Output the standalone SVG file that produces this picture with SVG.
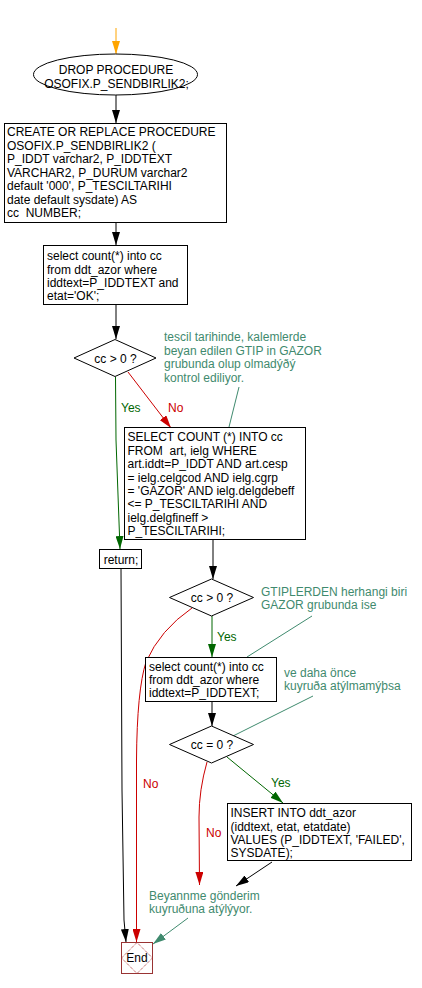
<svg xmlns="http://www.w3.org/2000/svg" width="422" height="988" viewBox="0 0 422 988">
<defs>
<style>
text{font-family:"Liberation Sans",Arial,sans-serif;font-size:12px;fill:#000}
.box{fill:#fff;stroke:#000;stroke-width:1}
.c{text-anchor:middle}
.note{fill:#3f8a6e}
.yes{fill:#006600}
.no{fill:#cc0000}
.ln{fill:none;stroke:#000;stroke-width:1}
.lg{fill:none;stroke:#006600;stroke-width:1}
.lr{fill:none;stroke:#cc0000;stroke-width:1}
.lt{fill:none;stroke:#3f8a6e;stroke-width:1}
.lo{fill:none;stroke:#ffa500;stroke-width:1}
</style>
<marker id="ab" viewBox="0 0 13 8" refX="13" refY="4" markerWidth="13" markerHeight="8" markerUnits="userSpaceOnUse" orient="auto"><path d="M0,0 L13,4 L0,8 z" fill="#000"/></marker>
<marker id="ag" viewBox="0 0 13 8" refX="13" refY="4" markerWidth="13" markerHeight="8" markerUnits="userSpaceOnUse" orient="auto"><path d="M0,0 L13,4 L0,8 z" fill="#006600"/></marker>
<marker id="ar" viewBox="0 0 13 8" refX="13" refY="4" markerWidth="13" markerHeight="8" markerUnits="userSpaceOnUse" orient="auto"><path d="M0,0 L13,4 L0,8 z" fill="#cc0000"/></marker>
<marker id="at" viewBox="0 0 13 8" refX="13" refY="4" markerWidth="13" markerHeight="8" markerUnits="userSpaceOnUse" orient="auto"><path d="M0,0 L13,4 L0,8 z" fill="#3f8a6e"/></marker>
<marker id="ao" viewBox="0 0 13 8" refX="13" refY="4" markerWidth="13" markerHeight="8" markerUnits="userSpaceOnUse" orient="auto"><path d="M0,0 L13,4 L0,8 z" fill="#ffa500"/></marker>
</defs>

<g id="connectors">
<path class="lo" d="M116,28 L116,54" marker-end="url(#ao)"/>
<path class="ln" d="M116,95 L116,123" marker-end="url(#ab)"/>
<path class="ln" d="M116,222 L116,245" marker-end="url(#ab)"/>
<path class="ln" d="M116,304 L116,339" marker-end="url(#ab)"/>
<path class="lg" d="M115.5,377 L116,440 L120,549" marker-end="url(#ag)"/>
<path class="lr" d="M128,372 L171,428" marker-end="url(#ar)"/>
<path class="lt" d="M239,387 L229,427"/>
<path class="ln" d="M121,568 L122,790 L124,920 L126,942" marker-end="url(#ab)"/>
<path class="ln" d="M213,539 L213,579" marker-end="url(#ab)"/>
<path class="lg" d="M212,616 L212,657" marker-end="url(#ag)"/>
<path class="lr" d="M192,608 Q160,630 146,662 Q137,690 136.5,760 L136.5,942" marker-end="url(#ar)"/>
<path class="lt" d="M312,616 L247,657"/>
<path class="ln" d="M212,702 L212,726" marker-end="url(#ab)"/>
<path class="lt" d="M313,696 L233,736"/>
<path class="lg" d="M227,757 L283,803" marker-end="url(#ag)"/>
<path class="lr" d="M207,762 Q199,790 199,817 L199.5,885" marker-end="url(#ar)"/>
<path class="ln" d="M272,862 L236,886" marker-end="url(#ab)"/>
<path class="lt" d="M188,918 L153,944" marker-end="url(#at)"/>
<text class="yes" x="121" y="412">Yes</text>
<text class="no" x="168" y="412">No</text>
<text class="yes" x="217" y="641">Yes</text>
<text class="no" x="143" y="788">No</text>
<text class="yes" x="271" y="787">Yes</text>
<text class="no" x="206" y="837">No</text>
</g>

<g id="start">
<ellipse cx="115.5" cy="74.5" rx="82" ry="20.5" class="box"/>
<text class="c" x="116" y="74">DROP PROCEDURE</text>
<text class="c" x="116.5" y="88">OSOFIX.P_SENDBIRLIK2;</text>
</g>

<g id="create">
<rect x="4.5" y="123.5" width="222" height="99" class="box"/>
<text x="7" y="136">CREATE OR REPLACE PROCEDURE</text>
<text x="7" y="149.5">OSOFIX.P_SENDBIRLIK2 (</text>
<text x="7" y="163">P_IDDT varchar2, P_IDDTEXT</text>
<text x="7" y="176.5">VARCHAR2, P_DURUM varchar2</text>
<text x="7" y="190">default '000', P_TESCILTARIHI</text>
<text x="7" y="203.5">date default sysdate) AS</text>
<text x="7" y="217" xml:space="preserve">cc  NUMBER;</text>
</g>

<g id="select1">
<rect x="43.5" y="245.5" width="144" height="59" class="box"/>
<text x="47" y="260">select count(*) into cc</text>
<text x="47" y="273.5">from ddt_azor where</text>
<text x="47" y="287">iddtext=P_IDDTEXT and</text>
<text x="47" y="300">etat='OK';</text>
</g>

<g id="dec1">
<polygon points="74,358 115,339.5 156,358 115,376.5" class="box"/>
<text class="c" x="115.5" y="362.5">cc &gt; 0 ?</text>
</g>

<g id="note1">
<text class="note" x="164" y="341">tescil tarihinde, kalemlerde</text>
<text class="note" x="164" y="354.5">beyan edilen GTIP in GAZOR</text>
<text class="note" x="164" y="368">grubunda olup olmadýðý</text>
<text class="note" x="164" y="381.5">kontrol ediliyor.</text>
</g>

<g id="select2">
<rect x="124.5" y="427.5" width="181" height="112" class="box"/>
<text x="127.5" y="441">SELECT COUNT (*) INTO cc</text>
<text x="127.5" y="454.5" xml:space="preserve">FROM  art, ielg WHERE</text>
<text x="127.5" y="468">art.iddt=P_IDDT AND art.cesp</text>
<text x="127.5" y="481.5">= ielg.celgcod AND ielg.cgrp</text>
<text x="127.5" y="495">= 'GAZOR' AND ielg.delgdebeff</text>
<text x="127.5" y="508">&lt;= P_TESCILTARIHI AND</text>
<text x="127.5" y="521.5">ielg.delgfineff &gt;</text>
<text x="127.5" y="535">P_TESCILTARIHI;</text>
</g>

<g id="ret">
<rect x="99.5" y="549.5" width="42" height="19" class="box"/>
<text class="c" x="121" y="563.5">return;</text>
</g>

<g id="dec2">
<polygon points="169.5,597.5 211.5,579 253.5,597.5 211.5,616" class="box"/>
<text class="c" x="212" y="602">cc &gt; 0 ?</text>
</g>

<g id="note2">
<text class="note" x="261" y="596">GTIPLERDEN herhangi biri</text>
<text class="note" x="261" y="609">GAZOR grubunda ise</text>
</g>

<g id="select3">
<rect x="145.5" y="657.5" width="131" height="44" class="box"/>
<text x="149" y="670.5">select count(*) into cc</text>
<text x="149" y="684">from ddt_azor where</text>
<text x="149" y="697">iddtext=P_IDDTEXT;</text>
</g>

<g id="note3">
<text class="note" x="284" y="677">ve daha önce</text>
<text class="note" x="284" y="690">kuyruða atýlmamýþsa</text>
</g>

<g id="dec3">
<polygon points="169.5,744.5 211.5,726 253.5,744.5 211.5,763" class="box"/>
<text class="c" x="212" y="749">cc = 0 ?</text>
</g>

<g id="insert">
<rect x="227.5" y="803.5" width="184" height="57" class="box"/>
<text x="230.5" y="817">INSERT INTO ddt_azor</text>
<text x="230.5" y="830.5">(iddtext, etat, etatdate)</text>
<text x="230.5" y="844">VALUES (P_IDDTEXT, 'FAILED',</text>
<text x="230.5" y="857">SYSDATE);</text>
</g>

<g id="note4">
<text class="note" x="149" y="899.5">Beyannme gönderim</text>
<text class="note" x="149" y="913">kuyruðuna atýlýyor.</text>
</g>

<g id="end">
<rect x="121.5" y="942.5" width="31" height="31" fill="#fff" stroke="#993333" stroke-width="1"/>
<polygon points="121.5,958 137,942.5 152.5,958 137,973.5" fill="none" stroke="#aa3333" stroke-width="1" stroke-dasharray="1,1"/>
<text class="c" x="137" y="962">End</text>
</g>
</svg>
